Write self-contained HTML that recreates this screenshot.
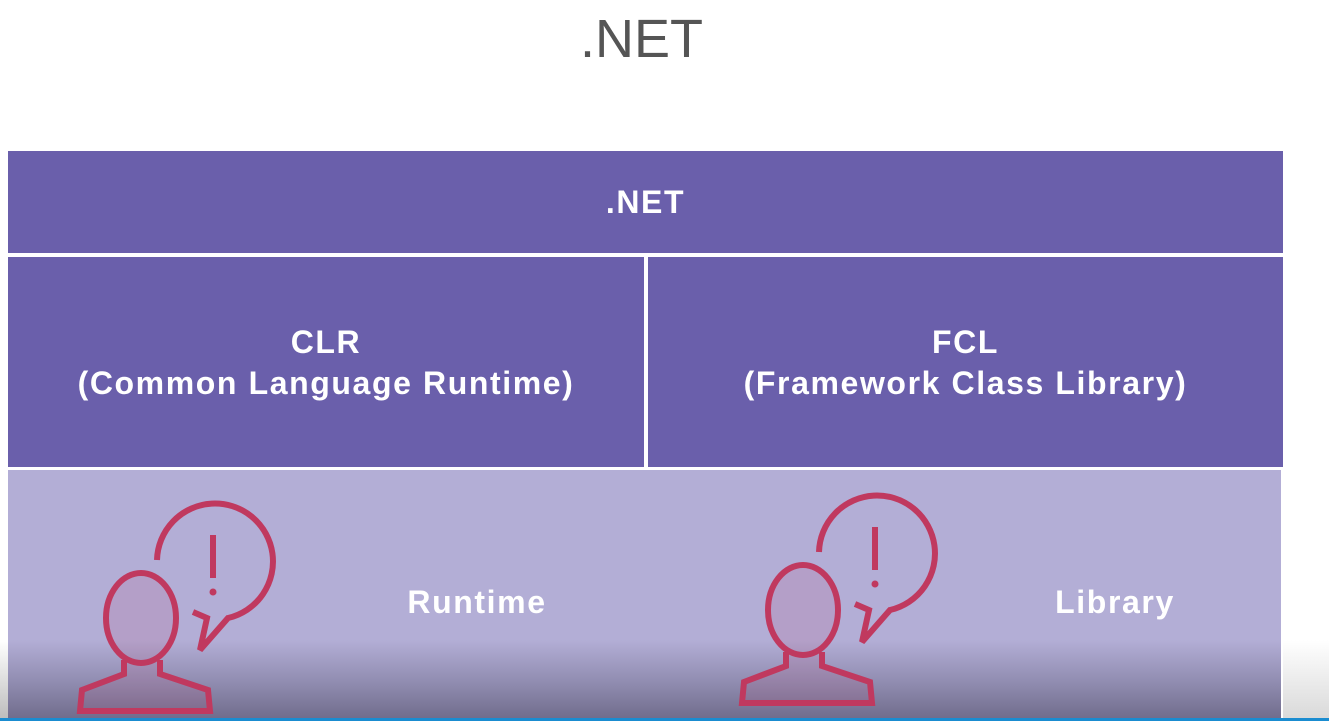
<!DOCTYPE html>
<html><head><style>
body{margin:0;width:1329px;height:721px;overflow:hidden;background:#fff;position:relative;font-family:"Liberation Sans",sans-serif}
.t{position:absolute;color:#fff;text-align:center;font-size:32px;font-weight:bold;letter-spacing:1.6px}
</style></head><body>
<div style="position:absolute;left:0;top:8px;width:1283px;text-align:center;font-size:54px;color:#555;font-weight:300">.NET</div>
<div style="position:absolute;left:8px;top:151px;width:1275px;height:102px;background:#6a5fab"></div>
<div style="position:absolute;left:8px;top:257px;width:636px;height:210px;background:#6a5fab"></div>
<div style="position:absolute;left:648px;top:257px;width:635px;height:210px;background:#6a5fab"></div>
<div style="position:absolute;left:8px;top:470px;width:1273px;height:251px;background:linear-gradient(#b3aed6 0,#b3aed6 170px,#8e8aae 215px,#6e6a8a 251px)"></div>
<div style="position:absolute;left:0;top:640px;width:8px;height:81px;background:linear-gradient(#fff,#bbb)"></div>
<div style="position:absolute;left:1283px;top:640px;width:46px;height:81px;background:linear-gradient(#fff,#d8d8d8)"></div>
<div style="position:absolute;left:0;top:718px;width:1329px;height:3px;background:#1a8cd0"></div>
<div class="t" style="left:8px;top:184px;width:1275px">.NET</div>
<div class="t" style="left:8px;top:322px;width:636px;line-height:41px">CLR<br>(Common Language Runtime)</div>
<div class="t" style="left:648px;top:322px;width:635px;line-height:41px">FCL<br>(Framework Class Library)</div>
<div class="t" style="left:377px;top:584px;width:200px">Runtime</div>
<div class="t" style="left:1015px;top:584px;width:200px">Library</div>
<svg width="1329" height="721" style="position:absolute;left:0;top:0" fill="none" stroke="#c0395f" stroke-width="6">
<g id="ic">
<path d="M157 560 A58 58 0 1 1 228 618 L200 650 L207 618 L193 612"/>
<line x1="213" y1="535" x2="213" y2="578"/>
<circle cx="213" cy="592" r="3.5" fill="#c0395f" stroke="none"/>
<ellipse cx="141" cy="618" rx="35" ry="45" fill="rgba(192,57,95,0.12)"/>
<path d="M124 660 L124 674 L82 690 L80 711 L210 711 L208 690 L160 674 L160 660" fill="rgba(192,57,95,0.12)"/>
</g>
<use href="#ic" transform="translate(662,-8)"/>
</svg>
</body></html>
